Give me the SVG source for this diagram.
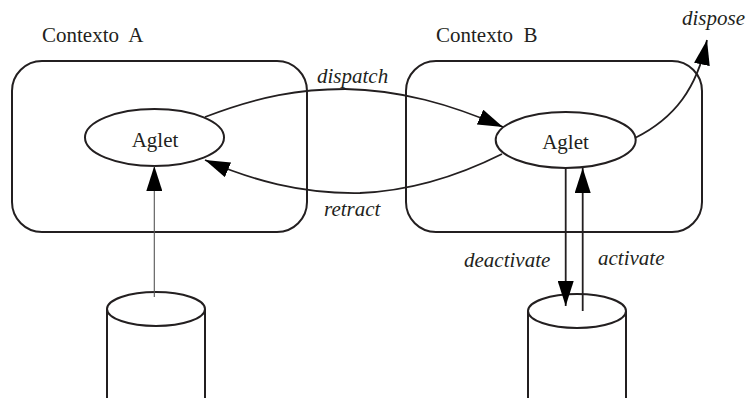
<svg xmlns="http://www.w3.org/2000/svg" width="746" height="398" viewBox="0 0 746 398">
  <style>
    .box { fill: none; stroke: #231f20; stroke-width: 2; }
    .shape { fill: #fff; stroke: #231f20; stroke-width: 2; }
    .edge { fill: none; stroke: #231f20; stroke-width: 1.8; }
    .thin { fill: none; stroke: #555; stroke-width: 1.1; }
    .title { font-family: "Liberation Serif", "Times New Roman", serif; font-size: 21px; fill: #231f20; white-space: pre; }
    .node-label { font-family: "Liberation Serif", "Times New Roman", serif; font-size: 21px; fill: #231f20; text-anchor: middle; }
    .edge-label { font-family: "Liberation Serif", "Times New Roman", serif; font-size: 21px; font-style: italic; fill: #231f20; }
  </style>
  <defs>
    <marker id="arrow" viewBox="0 0 25 16" refX="25" refY="8" markerWidth="25" markerHeight="16" markerUnits="userSpaceOnUse" orient="auto">
      <path d="M0,0 L25,8 L0,16 Z" fill="#000"/>
    </marker>
  </defs>

  <rect width="746" height="398" fill="#fff"/>

  <!-- contexts -->
  <g id="contexto-a">
    <rect class="box" x="12" y="61" width="295" height="171" rx="30" ry="30"/>
    <text class="title" x="42" y="42" xml:space="preserve">Contexto  A</text>
  </g>
  <g id="contexto-b">
    <rect class="box" x="406" y="61" width="296" height="171" rx="30" ry="30"/>
    <text class="title" x="436" y="42" xml:space="preserve">Contexto  B</text>
  </g>

  <!-- aglets -->
  <g id="aglet-a">
    <ellipse class="shape" cx="154.5" cy="137.5" rx="69.5" ry="28.5"/>
    <text class="node-label" x="155" y="147">Aglet</text>
  </g>
  <g id="aglet-b">
    <ellipse class="shape" cx="565.7" cy="140" rx="70" ry="28"/>
    <text class="node-label" x="565.5" y="149">Aglet</text>
  </g>

  <!-- storage cylinders -->
  <g id="disco-a">
    <path class="box" d="M107,309 L107,398 M205,309 L205,398"/>
    <ellipse class="shape" cx="156" cy="309" rx="49" ry="17"/>
  </g>
  <g id="disco-b">
    <path class="box" d="M528,311 L528,398 M626,311 L626,398"/>
    <ellipse class="shape" cx="577" cy="311" rx="49" ry="17"/>
  </g>

  <!-- connectors -->
  <g id="conectores">
    <path class="edge" d="M205,117 C260,96 300,89 345,89 C400,90 450,104 503,127" marker-end="url(#arrow)"/>
    <path class="edge" d="M502,154 C460,175 410,191 360,193 C300,194 252,180 205,160" marker-end="url(#arrow)"/>
    <path class="edge" d="M635,138 C675,118 697,88 707,40" marker-end="url(#arrow)"/>
    <path class="thin" d="M154.3,297 L154.3,166" marker-end="url(#arrow)"/>
    <path class="edge" d="M565.7,168 L565.7,306" marker-end="url(#arrow)"/>
    <path class="edge" d="M582.7,311 L582.7,168" marker-end="url(#arrow)"/>

    <text class="edge-label" x="317" y="83">dispatch</text>
    <text class="edge-label" x="324" y="216">retract</text>
    <text class="edge-label" x="682" y="25">dispose</text>
    <text class="edge-label" x="464" y="267">deactivate</text>
    <text class="edge-label" x="598" y="265">activate</text>
  </g>
</svg>
